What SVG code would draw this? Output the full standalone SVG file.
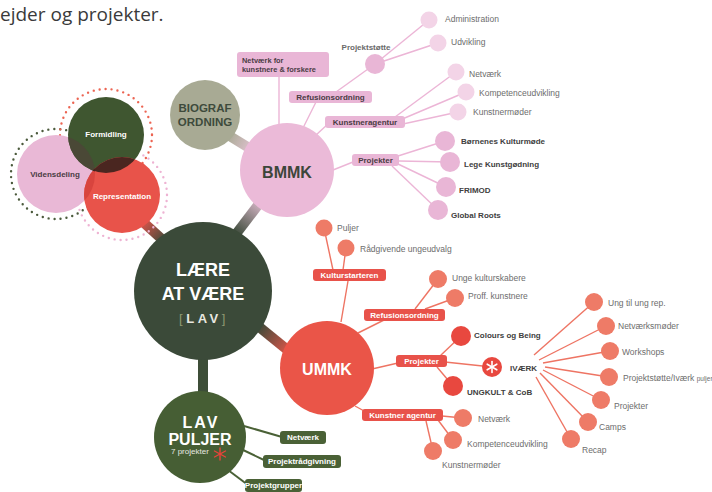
<svg xmlns="http://www.w3.org/2000/svg" width="712" height="492" viewBox="0 0 712 492">
<style>
text{font-family:"Liberation Sans",Arial,sans-serif;dominant-baseline:central}
.t{font-family:"Open Sans","DejaVu Sans",sans-serif;font-size:19px;fill:#3a3a3a;dominant-baseline:alphabetic}
.lf{font-size:8.5px;fill:#6d6d6d}
.bl{font-size:8px;font-weight:bold;fill:#404040}
.pk{font-size:8px;font-weight:bold;fill:#4a3c44}
.wt{font-size:8px;font-weight:bold;fill:#fff}
.pp{fill:#e9b6d6}
.pl{fill:#f3d4e7}
.rp{fill:#e8524a}
.sl{fill:#ee7b67}
.dr{fill:#e8483f}
.gp{fill:#4a6136}
.lp{stroke:#ecb5d6;stroke-width:1.4;fill:none}
.lr{stroke:#ee7463;stroke-width:1.4;fill:none}
.lg{stroke:#4a6136;stroke-width:2;fill:none}
.bar{stroke-width:10;fill:none}
.dot{fill:none;stroke-width:2.4;stroke-linecap:round;stroke-dasharray:0 6}
.big{font-size:16px;font-weight:bold}
</style>
<defs>
<linearGradient id="gBio" gradientUnits="userSpaceOnUse" x1="228" y1="135" x2="254" y2="151"><stop offset="0" stop-color="#a8aa94"/><stop offset="1" stop-color="#e6c4d6"/></linearGradient>
<linearGradient id="gBm" gradientUnits="userSpaceOnUse" x1="236" y1="234" x2="262" y2="200"><stop offset="0" stop-color="#3b4a39"/><stop offset="1" stop-color="#e2bfd2"/></linearGradient>
<linearGradient id="gRep" gradientUnits="userSpaceOnUse" x1="143" y1="222" x2="165" y2="242"><stop offset="0" stop-color="#d8544a"/><stop offset="1" stop-color="#3b4a39"/></linearGradient>
<linearGradient id="gUm" gradientUnits="userSpaceOnUse" x1="258" y1="326" x2="290" y2="352"><stop offset="0" stop-color="#3b4a39"/><stop offset="1" stop-color="#e0564a"/></linearGradient>
<clipPath id="cV"><circle cx="56" cy="174" r="39"/></clipPath>
<clipPath id="cF"><circle cx="106" cy="135" r="38"/></clipPath>
</defs>
<rect width="712" height="492" fill="#fff"/>
<text class="t" x="0" y="21">ejder og projekter.</text>

<g id="connectors">
<line class="bar" x1="228" y1="135" x2="254" y2="151" stroke="url(#gBio)" stroke-width="9"/>
<line class="bar" x1="236" y1="234" x2="262" y2="200" stroke="url(#gBm)"/>
<line class="bar" x1="143" y1="222" x2="165" y2="242" stroke="url(#gRep)"/>
<line class="bar" x1="258" y1="326" x2="290" y2="352" stroke="url(#gUm)" stroke-width="11"/>
<line class="bar" x1="203" y1="352" x2="203" y2="396" stroke="#3d4e38" stroke-width="12"/>
<!-- BMMK -->
<line class="lp" x1="279" y1="77" x2="279" y2="125"/>
<line class="lp" x1="303" y1="128" x2="316" y2="102"/>
<line class="lp" x1="336" y1="92" x2="375" y2="64"/>
<line class="lp" x1="375" y1="64" x2="429" y2="20"/>
<line class="lp" x1="375" y1="64" x2="438" y2="43"/>
<line class="lp" x1="316" y1="135" x2="328" y2="124"/>
<line class="lp" x1="395" y1="117" x2="456" y2="72"/>
<line class="lp" x1="400" y1="120" x2="466" y2="92"/>
<line class="lp" x1="403" y1="124" x2="458" y2="112"/>
<line class="lp" x1="333" y1="170" x2="353" y2="162"/>
<line class="lp" x1="398" y1="156" x2="445" y2="141"/>
<line class="lp" x1="399" y1="161" x2="450" y2="162"/>
<line class="lp" x1="398" y1="164" x2="446" y2="187"/>
<line class="lp" x1="392" y1="166" x2="438" y2="210"/>
<!-- UMMK -->
<line class="lr" x1="348" y1="281" x2="341" y2="322"/>
<line class="lr" x1="333" y1="270" x2="324" y2="228"/>
<line class="lr" x1="343" y1="270" x2="346" y2="248"/>
<line class="lr" x1="358" y1="333" x2="384" y2="320"/>
<line class="lr" x1="415" y1="309" x2="438" y2="279"/>
<line class="lr" x1="425" y1="309" x2="455" y2="298"/>
<line class="lr" x1="372" y1="369" x2="398" y2="363"/>
<line class="lr" x1="440" y1="356" x2="461" y2="336"/>
<line class="lr" x1="445" y1="362" x2="492" y2="367"/>
<line class="lr" x1="437" y1="367" x2="453" y2="386"/>
<line class="lr" x1="534" y1="355" x2="594" y2="302"/>
<line class="lr" x1="539" y1="360" x2="606" y2="326"/>
<line class="lr" x1="543" y1="363" x2="610" y2="351"/>
<line class="lr" x1="545" y1="367" x2="609" y2="377"/>
<line class="lr" x1="543" y1="370" x2="601" y2="400"/>
<line class="lr" x1="540" y1="373" x2="588" y2="422"/>
<line class="lr" x1="536" y1="377" x2="571" y2="439"/>
<line class="lr" x1="355" y1="406" x2="366" y2="412"/>
<line class="lr" x1="442" y1="416" x2="463" y2="418"/>
<line class="lr" x1="438" y1="420" x2="453" y2="440"/>
<line class="lr" x1="426" y1="421" x2="433" y2="451"/>
<!-- LAV PULJER -->
<line class="lg" x1="244" y1="426" x2="282" y2="437"/>
<line class="lg" x1="241" y1="449" x2="266" y2="461"/>
<line class="lg" x1="228" y1="470" x2="248" y2="485"/>
</g>

<g id="venn">
<circle class="dot" cx="56" cy="174" r="45" stroke="#4b5a3c"/>
<circle class="dot" cx="106" cy="135" r="46" stroke="#ec6452"/>
<circle class="dot" cx="122" cy="195" r="45" stroke="#eeb3d3"/>
<g id="vidensdeling"><circle cx="56" cy="174" r="39" fill="#e9b8d6"/></g>
<g id="formidling"><circle cx="106" cy="135" r="38" fill="#3f5630"/></g>
<g id="representation"><circle cx="122" cy="195" r="38" fill="#e8534a"/></g>
<circle cx="106" cy="135" r="38" fill="#4a4836" clip-path="url(#cV)"/>
<circle cx="122" cy="195" r="38" fill="#d8443e" clip-path="url(#cV)"/>
<circle cx="122" cy="195" r="38" fill="#4a2620" clip-path="url(#cF)"/>
<g clip-path="url(#cV)"><circle cx="122" cy="195" r="38" fill="#3c201a" clip-path="url(#cF)"/></g>
<text class="pk" x="55" y="174" text-anchor="middle">Vidensdeling</text>
<text class="wt" x="106" y="134" text-anchor="middle">Formidling</text>
<text class="wt" x="122" y="196" text-anchor="middle">Representation</text>
</g>

<g id="biograf">
<circle cx="205" cy="115" r="35" fill="#a8aa94"/>
<text x="205" y="108" text-anchor="middle" font-size="11.5" font-weight="bold" fill="#3e4a3c">BIOGRAF</text>
<text x="205" y="122" text-anchor="middle" font-size="11.5" font-weight="bold" fill="#3e4a3c">ORDNING</text>
</g>

<g id="bmmk">
<circle cx="287" cy="170" r="47" fill="#ebbad8"/>
<text class="big" x="287" y="172" text-anchor="middle" fill="#3c463a">BMMK</text>
</g>
<g id="bmmk-netvaerk"><rect class="pp" x="237" y="52" width="92" height="25" rx="3"/>
<text class="pk" x="242" y="60.5" style="font-size:7.4px">Netværk for</text><text class="pk" x="242" y="69.5" style="font-size:7.4px">kunstnere &amp; forskere</text></g>
<g id="bmmk-refusion"><rect class="pp" x="289" y="91" width="83" height="12" rx="3"/><text class="pk" x="330.5" y="97.5" text-anchor="middle">Refusionsordning</text></g>
<g id="bmmk-projektstotte"><circle class="pp" cx="375" cy="64" r="10"/><text x="366" y="47" text-anchor="middle" font-size="8" font-weight="bold" fill="#6a6a6a">Projektstøtte</text></g>
<g id="bmmk-admin"><circle class="pl" cx="429" cy="20" r="8.5"/><text class="lf" x="445" y="19">Administration</text></g>
<g id="bmmk-udvikling"><circle class="pl" cx="438" cy="43" r="8.5"/><text class="lf" x="451" y="42">Udvikling</text></g>
<g id="bmmk-agentur"><rect class="pp" x="325" y="116" width="80" height="12" rx="3"/><text class="pk" x="365" y="122" text-anchor="middle">Kunstneragentur</text></g>
<g id="bmmk-netv"><circle class="pl" cx="456" cy="72" r="8.5"/><text class="lf" x="469" y="74">Netværk</text></g>
<g id="bmmk-komp"><circle class="pl" cx="466" cy="92" r="8.5"/><text class="lf" x="479" y="93">Kompetenceudvikling</text></g>
<g id="bmmk-kunstnermoder"><circle class="pl" cx="458" cy="112" r="8.5"/><text class="lf" x="473" y="112">Kunstnermøder</text></g>
<g id="bmmk-projekter"><rect class="pp" x="352" y="154" width="47" height="12" rx="3"/><text class="pk" x="375.5" y="160" text-anchor="middle">Projekter</text></g>
<g id="bmmk-bornenes"><circle class="pp" cx="445" cy="141" r="10"/><text class="bl" x="461" y="141">Børnenes Kulturmøde</text></g>
<g id="bmmk-lege"><circle class="pp" cx="450" cy="162" r="10"/><text class="bl" x="464" y="164">Lege Kunstgødning</text></g>
<g id="bmmk-frimod"><circle class="pp" cx="446" cy="187" r="10"/><text class="bl" x="459" y="190">FRIMOD</text></g>
<g id="bmmk-global"><circle class="pp" cx="438" cy="210" r="10"/><text class="bl" x="451" y="215">Global Roots</text></g>

<g id="lav">
<circle cx="203" cy="291" r="69" fill="#3b4a39"/>
<text x="203" y="270" text-anchor="middle" font-size="18" font-weight="bold" fill="#fff">LÆRE</text>
<text x="203" y="294" text-anchor="middle" font-size="18" font-weight="bold" fill="#fff">AT VÆRE</text>
<text x="204" y="318" text-anchor="middle" font-size="13" font-weight="bold" letter-spacing="3.5" fill="#e8e8e0"><tspan fill="#8f9a72" font-weight="normal">[</tspan>LAV<tspan fill="#8f9a72" font-weight="normal">]</tspan></text>
</g>

<g id="ummk">
<circle cx="327" cy="368" r="47" fill="#ea5548"/>
<text class="big" x="327" y="369" text-anchor="middle" fill="#fff">UMMK</text>
</g>
<g id="ummk-kulturstarteren"><rect class="rp" x="313" y="269" width="73" height="12" rx="3"/><text class="wt" x="349.5" y="275.5" text-anchor="middle">Kulturstarteren</text></g>
<g id="ummk-puljer"><circle class="sl" cx="324" cy="228" r="8.5"/><text class="lf" x="337" y="228">Puljer</text></g>
<g id="ummk-radgivende"><circle class="sl" cx="346" cy="248" r="8.5"/><text class="lf" x="360" y="249">Rådgivende ungeudvalg</text></g>
<g id="ummk-refusion"><rect class="rp" x="364" y="309" width="81" height="12" rx="3"/><text class="wt" x="404.5" y="315" text-anchor="middle">Refusionsordning</text></g>
<g id="ummk-unge"><circle class="sl" cx="438" cy="279" r="9"/><text class="lf" x="452" y="278">Unge kulturskabere</text></g>
<g id="ummk-proff"><circle class="sl" cx="455" cy="298" r="9"/><text class="lf" x="468" y="296">Proff. kunstnere</text></g>
<g id="ummk-projekter"><rect class="rp" x="396" y="355" width="51" height="12" rx="3"/><text class="wt" x="421.5" y="361" text-anchor="middle">Projekter</text></g>
<g id="ummk-colours"><circle class="dr" cx="461" cy="336" r="10"/><text class="bl" x="474" y="335">Colours og Being</text></g>
<g id="ummk-ivaerk"><circle class="dr" cx="492" cy="367" r="10"/>
<g stroke="#fff" stroke-width="1.6" stroke-linecap="round"><line x1="492" y1="361.5" x2="492" y2="372.5"/><line x1="487.2" y1="364.2" x2="496.8" y2="369.8"/><line x1="487.2" y1="369.8" x2="496.8" y2="364.2"/></g>
<text class="bl" x="510" y="368">IVÆRK</text></g>
<g id="ummk-ungkult"><circle class="dr" cx="453" cy="386" r="10"/><text class="bl" x="467" y="392">UNGKULT &amp; CoB</text></g>
<g id="iv-ung"><circle class="sl" cx="594" cy="302" r="9"/><text class="lf" x="608" y="303">Ung til ung rep.</text></g>
<g id="iv-netv"><circle class="sl" cx="606" cy="326" r="9"/><text class="lf" x="618" y="326">Netværksmøder</text></g>
<g id="iv-workshops"><circle class="sl" cx="610" cy="351" r="9"/><text class="lf" x="622" y="352">Workshops</text></g>
<g id="iv-projektstotte"><circle class="sl" cx="609" cy="377" r="9"/><text class="lf" x="623" y="378">Projektstøtte/Iværk <tspan font-size="6.5">puljer</tspan></text></g>
<g id="iv-projekter"><circle class="sl" cx="601" cy="400" r="9"/><text class="lf" x="614" y="406">Projekter</text></g>
<g id="iv-camps"><circle class="sl" cx="588" cy="422" r="9"/><text class="lf" x="599" y="427">Camps</text></g>
<g id="iv-recap"><circle class="sl" cx="571" cy="439" r="9"/><text class="lf" x="582" y="450">Recap</text></g>
<g id="ummk-agentur"><rect class="rp" x="362" y="409" width="81" height="12" rx="3"/><text class="wt" x="402.5" y="415" text-anchor="middle">Kunstner agentur</text></g>
<g id="ummk-netv"><circle class="sl" cx="463" cy="418" r="9"/><text class="lf" x="478" y="419">Netværk</text></g>
<g id="ummk-komp"><circle class="sl" cx="453" cy="440" r="9"/><text class="lf" x="467" y="444">Kompetenceudvikling</text></g>
<g id="ummk-kunstnermoder"><circle class="sl" cx="433" cy="451" r="9"/><text class="lf" x="442" y="465">Kunstnermøder</text></g>

<g id="lav-puljer">
<circle cx="200" cy="437" r="46" fill="#465e34"/>
<text x="201" y="422" text-anchor="middle" font-size="16" font-weight="bold" letter-spacing="2" fill="#fff">LAV</text>
<text x="200" y="439" text-anchor="middle" font-size="16" font-weight="bold" fill="#fff">PULJER</text>
<text x="171" y="451" font-size="8" fill="#e6e9e0">7 projekter</text>
<g stroke="#e8443a" stroke-width="1.4" stroke-linecap="round"><line x1="220" y1="448" x2="220" y2="460"/><line x1="214.5" y1="451" x2="225.5" y2="457"/><line x1="214.5" y1="457" x2="225.5" y2="451"/></g>
</g>
<g id="lp-netvaerk"><rect class="gp" x="280" y="431" width="46" height="13" rx="3"/><text class="wt" x="303" y="437.5" text-anchor="middle">Netværk</text></g>
<g id="lp-radgivning"><rect class="gp" x="263" y="455" width="78" height="13" rx="3"/><text class="wt" x="302" y="461.5" text-anchor="middle">Projektrådgivning</text></g>
<g id="lp-grupper"><rect class="gp" x="245" y="479" width="57" height="13" rx="3"/><text class="wt" x="273.5" y="485.5" text-anchor="middle">Projektgrupper</text></g>
</svg>
